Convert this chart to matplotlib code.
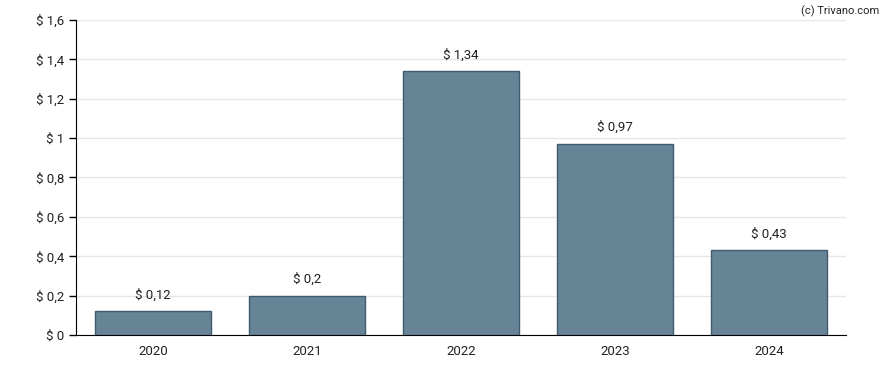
import matplotlib
matplotlib.use('Agg')
import matplotlib.pyplot as plt

years = ['2020', '2021', '2022', '2023', '2024']
dividends = [0.12, 0.2, 1.34, 0.97, 0.43]
yticks = [0, 0.2, 0.4, 0.6, 0.8, 1.0, 1.2, 1.4, 1.6]


def fmt(v):
    s = ('%.2f' % v).rstrip('0').rstrip('.')
    return '$ ' + s.replace('.', ',')


plt.rcParams['font.family'] = ['Roboto', 'DejaVu Sans']

fig = plt.figure(figsize=(8.88, 3.7), dpi=100)
ax = fig.add_axes([0.0856, 0.0946, 0.867, 0.8514])

x = list(range(len(years)))
ax.bar(x, dividends, width=0.75, color='#678496', edgecolor='#3f5b70', linewidth=1, zorder=3)
for xi, v in zip(x, dividends):
    ax.text(xi, v + 0.05, fmt(v), ha='center', va='bottom', fontsize=9.5, color='#222222')

ax.set_xlim(-0.5, 4.5)
ax.set_ylim(0, 1.6)
ax.set_xticks(x)
ax.set_xticklabels(years)
ax.set_yticks(yticks)
ax.set_yticklabels([fmt(v) for v in yticks])
ax.tick_params(axis='x', length=0, pad=7, labelsize=9.5, labelcolor='#222222')
ax.tick_params(axis='y', length=5, width=1, labelsize=9.5, labelcolor='#222222')
ax.grid(axis='y', color='#e6e6e6', linewidth=1, zorder=0)
ax.spines['top'].set_visible(False)
ax.spines['right'].set_visible(False)
ax.spines['left'].set_color('black')
ax.spines['bottom'].set_color('black')

fig.text(0.99, 0.985, '(c) Trivano.com', ha='right', va='top', fontsize=8, color='#222222')

fig.savefig('out.png', dpi=100)
